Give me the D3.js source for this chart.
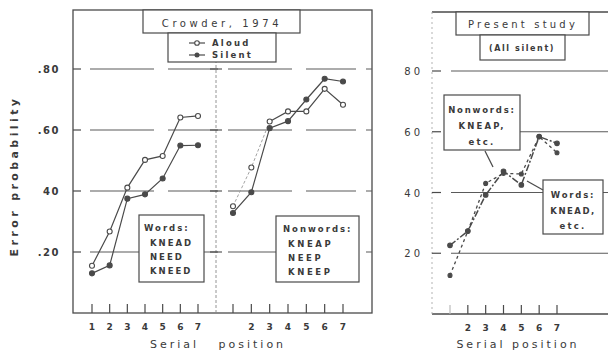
<!DOCTYPE html>
<html><head><meta charset="utf-8">
<script src="https://cdn.jsdelivr.net/npm/d3@7"></script>
<style>body{margin:0;background:#fff}svg{display:block}text{font-family:"DejaVu Sans",sans-serif;fill:#3a3a3a}</style>
</head><body><svg id="c" width="608" height="355"></svg>
<script>
const positions = [1,2,3,4,5,6,7];
const yTicks = [0.2,0.4,0.6,0.8];
const yTickLabelsLeft = [".20","40",".60",".80"];
const yTickLabelsRight = ["20","40","60","80"];
const xTickLabelsWords = ["1","2","3","4","5","6","7"];
const xTickLabelsNon = ["","2","3","4","5","6","7"];
// Crowder (1974)
const crowderWordsAloud  = [0.155,0.267,0.411,0.502,0.515,0.641,0.646];
const crowderWordsSilent = [0.130,0.156,0.375,0.389,0.441,0.549,0.550];
const crowderNonAloud    = [0.350,0.477,0.628,0.661,0.661,0.735,0.683];
const crowderNonSilent   = [0.328,0.396,0.606,0.629,0.700,0.768,0.759];
// Present study (all silent)
const presentWords    = [0.226,0.273,0.392,0.470,0.425,0.584,0.562];
const presentNonwords = [0.127,0.273,0.430,0.463,0.461,0.584,0.531];

const svg = d3.select("#c");
const ink = "#4a4a4a";

const xW = d3.scaleLinear().domain([1,7]).range([92,198]);
const xN = d3.scaleLinear().domain([1,7]).range([233,343]);
const xR = d3.scaleLinear().domain([1,7]).range([450,557]);
const yL = d3.scaleLinear().domain([0,0.8]).range([313,69]);
const yR = d3.scaleLinear().domain([0,0.8]).range([314,71]);

// ---------- left panel frame ----------
const L = {x0:73,x1:372,top:10,bot:313,mid:216};
svg.append("rect").attr("x",L.x0).attr("y",L.top).attr("width",L.x1-L.x0).attr("height",L.bot-L.top)
  .attr("fill","none").attr("stroke",ink).attr("stroke-width",1.3);
svg.append("line").attr("x1",L.mid).attr("x2",L.mid).attr("y1",L.top).attr("y2",L.bot)
  .attr("stroke","#888").attr("stroke-width",0.9).attr("stroke-dasharray","3,2");

yTicks.forEach(v=>{
  const y=yL(v);
  svg.append("line").attr("x1",L.x0).attr("x2",L.x0+8).attr("y1",y).attr("y2",y).attr("stroke",ink).attr("stroke-width",1.2);
  svg.append("line").attr("x1",L.x0+17).attr("x2",L.x1).attr("y1",y).attr("y2",y)
    .attr("stroke","#5a5a5a").attr("stroke-width",1.1).attr("stroke-dasharray","64,14,50,10");
  svg.append("line").attr("x1",L.mid-6).attr("x2",L.mid+6).attr("y1",y).attr("y2",y).attr("stroke",ink).attr("stroke-width",1.1);
});
svg.selectAll(".yl").data(yTicks).join("text").attr("x",60).attr("y",d=>yL(d)+4)
  .attr("text-anchor","end").attr("font-size",10).attr("font-weight","bold").attr("letter-spacing",1.5)
  .text((d,i)=>yTickLabelsLeft[i]);

function xTicks(scale, bot, labels, first){
  positions.forEach((p,i)=>{
    svg.append("line").attr("x1",scale(p)).attr("x2",scale(p)).attr("y1",bot).attr("y2",bot-9)
      .attr("stroke", (first===false && i===0)?"#bbb":ink).attr("stroke-width",1.2);
    svg.append("text").attr("x",scale(p)).attr("y",bot+17).attr("text-anchor","middle")
      .attr("font-size",9).attr("font-weight","bold").attr("fill","#555").text(labels[i]);
  });
}
xTicks(xW,L.bot,xTickLabelsWords);
xTicks(xN,L.bot,xTickLabelsNon);

// ---------- right panel frame ----------
const R = {x0:432,x1:608,top:12,bot:314};
svg.append("line").attr("x1",R.x0).attr("x2",R.x1).attr("y1",R.top).attr("y2",R.top).attr("stroke",ink).attr("stroke-width",1.3);
svg.append("line").attr("x1",R.x0).attr("x2",R.x1).attr("y1",R.bot).attr("y2",R.bot).attr("stroke",ink).attr("stroke-width",1.3);
svg.append("line").attr("x1",R.x0).attr("x2",R.x0).attr("y1",R.top).attr("y2",R.bot).attr("stroke","#aaa").attr("stroke-width",0.9).attr("stroke-dasharray","2,3");
yTicks.forEach(v=>{
  const y=yR(v);
  svg.append("line").attr("x1",R.x0).attr("x2",R.x0+9).attr("y1",y).attr("y2",y).attr("stroke",ink).attr("stroke-width",1.2);
  svg.append("line").attr("x1",R.x0+19).attr("x2",R.x1).attr("y1",y).attr("y2",y)
    .attr("stroke","#5a5a5a").attr("stroke-width",1.1);
});
svg.selectAll(".yr").data(yTicks).join("text").attr("x",423).attr("y",d=>yR(d)+4)
  .attr("text-anchor","end").attr("font-size",10).attr("letter-spacing",3).attr("fill","#666")
  .text((d,i)=>yTickLabelsRight[i]);
xTicks(xR,R.bot,xTickLabelsNon,false);

// ---------- axis titles ----------
svg.append("text").attr("transform","translate(18,176) rotate(-90)").attr("text-anchor","middle")
  .attr("font-size",11).attr("font-weight","bold").attr("fill","#555").attr("letter-spacing",3.4).text("Error probability");
svg.append("text").attr("x",218).attr("y",348).attr("text-anchor","middle").attr("font-size",11)
  .attr("letter-spacing",3).attr("xml:space","preserve").text("Serial   position");
svg.append("text").attr("x",518).attr("y",348).attr("text-anchor","middle").attr("font-size",11)
  .attr("letter-spacing",3).text("Serial position");

// ---------- boxes ----------
function box(x,y,w,h){
  svg.append("rect").attr("x",x).attr("y",y).attr("width",w).attr("height",h)
    .attr("fill","#fff").attr("stroke",ink).attr("stroke-width",1.2);
}
function txt(x,y,s,opts={}){
  return svg.append("text").attr("x",x).attr("y",y).attr("font-size",opts.size||9)
    .attr("font-weight",opts.bold?"bold":"normal").attr("letter-spacing",opts.ls??2)
    .attr("text-anchor",opts.anchor||"start").text(s);
}
box(143,10,157,23);
txt(222,27,"Crowder, 1974",{size:10,ls:3.6,anchor:"middle"});
box(168,33,108,29);
txt(212,46,"Aloud",{size:8.5,bold:true,ls:2.2});
txt(212,58,"Silent",{size:8.5,bold:true,ls:2.2});
svg.append("line").attr("x1",189).attr("x2",205).attr("y1",43).attr("y2",43).attr("stroke",ink).attr("stroke-width",1.2);
svg.append("circle").attr("cx",197).attr("cy",43).attr("r",2.3).attr("fill","#fff").attr("stroke",ink).attr("stroke-width",1.1);
svg.append("line").attr("x1",189).attr("x2",205).attr("y1",55).attr("y2",55).attr("stroke",ink).attr("stroke-width",1.2);
svg.append("circle").attr("cx",197).attr("cy",55).attr("r",2.5).attr("fill",ink);

box(139,215,65,67);
txt(144,231,"Words:",{size:8.5,bold:true,ls:2});
txt(150,246,"KNEAD",{size:8.5,bold:true,ls:2});
txt(150,260,"NEED",{size:8.5,bold:true,ls:2});
txt(150,274,"KNEED",{size:8.5,bold:true,ls:2});

box(276,216,83,66);
txt(283,232,"Nonwords:",{size:8.5,bold:true,ls:2});
txt(288,247,"KNEAP",{size:8.5,bold:true,ls:2.6});
txt(288,261,"NEEP",{size:8.5,bold:true,ls:2.6});
txt(288,275,"KNEEP",{size:8.5,bold:true,ls:2.6});

box(456,12,133,23);
txt(523,28,"Present study",{size:10,ls:3.2,anchor:"middle"});
box(480,35,85,25);
txt(522,51,"(All silent)",{size:8,ls:1.6,anchor:"middle",bold:true});

box(444,95,76,55);
txt(482,113,"Nonwords:",{size:8.5,bold:true,ls:1.8,anchor:"middle"});
txt(482,129,"KNEAP,",{size:8.5,bold:true,ls:2.2,anchor:"middle"});
txt(482,145,"etc.",{size:8.5,bold:true,ls:2.2,anchor:"middle"});

box(543,180,60,54);
txt(573,198,"Words:",{size:8.5,bold:true,ls:1.8,anchor:"middle"});
txt(573,214,"KNEAD,",{size:8.5,bold:true,ls:1.5,anchor:"middle"});
txt(573,229,"etc.",{size:8.5,bold:true,ls:2.2,anchor:"middle"});

svg.append("line").attr("x1",485).attr("y1",151).attr("x2",493).attr("y2",167).attr("stroke",ink).attr("stroke-width",1.2);
svg.append("line").attr("x1",543).attr("y1",190).attr("x2",527).attr("y2",181).attr("stroke",ink).attr("stroke-width",1.2);

// ---------- data ----------
function series(scaleX, scaleY, vals, opts){
  const pts = vals.map((v,i)=>[scaleX(positions[i]), scaleY(v)]);
  const line = d3.line();
  if(opts.fadeFirst){
    svg.append("path").attr("d",line(pts.slice(0,3))).attr("fill","none").attr("stroke","#999")
      .attr("stroke-width",0.9).attr("stroke-dasharray","3,2");
    svg.append("path").attr("d",line(pts.slice(2))).attr("fill","none").attr("stroke",ink).attr("stroke-width",1.2);
  } else {
    svg.append("path").attr("d",line(pts)).attr("fill","none").attr("stroke",opts.color||ink)
      .attr("stroke-width",opts.width||1.2).attr("stroke-dasharray",opts.dash||null);
  }
  svg.selectAll(null).data(pts).join("circle").attr("cx",d=>d[0]).attr("cy",d=>d[1])
    .attr("r",opts.r||2.5).attr("fill",opts.open?"#fff":ink).attr("stroke",ink).attr("stroke-width",1.1);
}
series(xW,yL,crowderWordsAloud,{open:true});
series(xW,yL,crowderWordsSilent,{open:false});
series(xN,yL,crowderNonAloud,{open:true,fadeFirst:true});
series(xN,yL,crowderNonSilent,{open:false});
series(xR,yR,presentWords,{open:false,dash:"7,2,2,2",width:1.5,r:2.3});
series(xR,yR,presentNonwords,{open:false,dash:"3,3",width:1.3,r:2});
</script></body></html>
